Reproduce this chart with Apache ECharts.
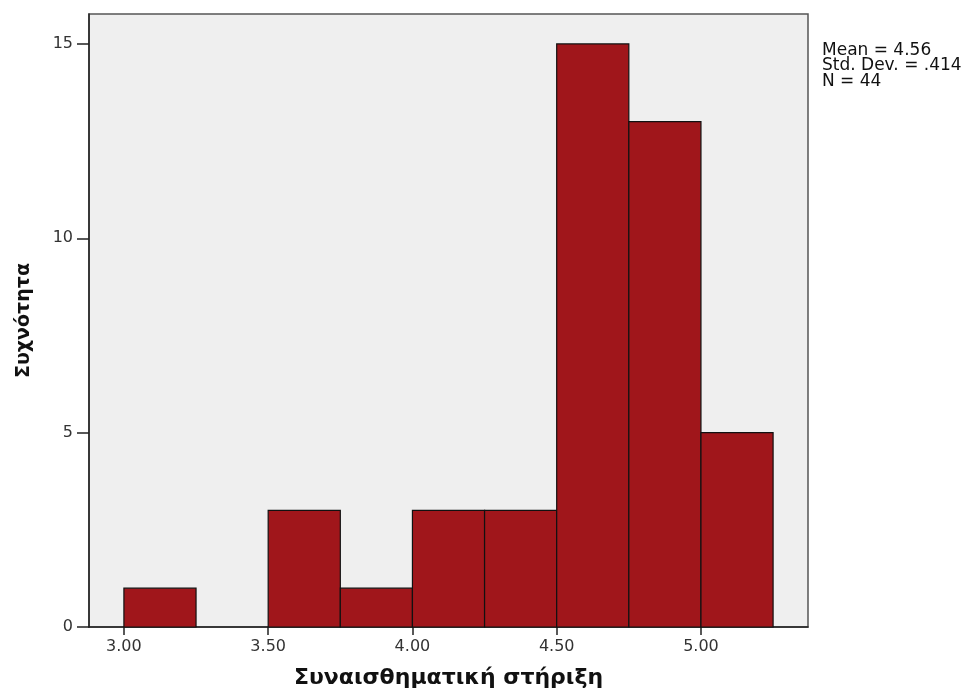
<!DOCTYPE html>
<html>
<head>
<meta charset="utf-8">
<script src="https://cdn.jsdelivr.net/npm/echarts@6/dist/echarts.min.js"></script>
<style>html,body{margin:0;padding:0;background:#fff;}#c{width:973px;height:688px;}</style>
</head>
<body>
<div id="c"></div>
<script>
const binStarts = [3.00, 3.25, 3.50, 3.75, 4.00, 4.25, 4.50, 4.75, 5.00];
const binWidth = 0.25;
const counts = [1, 0, 3, 1, 3, 3, 15, 13, 5];
const xTicks = [3.0, 3.5, 4.0, 4.5, 5.0];
const yTicks = [0, 5, 10, 15];
const statsLines = ['Mean = 4.56', 'Std. Dev. = .414', 'N = 44'];
const xTitle = 'Συναισθηματική στήριξη';
const yTitle = 'Συχνότητα';

const data = binStarts.map((s, i) => [s, s + binWidth, counts[i]]);

const chart = echarts.init(document.getElementById('c'), null, {renderer: 'canvas'});
const font = 'DejaVu Sans';
chart.setOption({
  animation: false,
  backgroundColor: '#ffffff',
  grid: {
    left: 89, top: 14, right: 165, bottom: 61,
    outerBoundsMode: 'none', containLabel: false,
    show: true, backgroundColor: '#efefef', borderColor: '#555', borderWidth: 1.5
  },
  xAxis: {
    type: 'value', min: 2.879, max: 5.371,
    splitLine: {show: false},
    axisLine: {show: true, onZero: false, lineStyle: {color: '#222', width: 1.5}},
    axisTick: {show: true, length: 8, customValues: xTicks, lineStyle: {color: '#222', width: 1.5}},
    axisLabel: {customValues: xTicks, formatter: v => v.toFixed(2), color: '#333', fontSize: 16, fontFamily: font, margin: 12},
    name: xTitle, nameLocation: 'middle', nameGap: 40,
    nameTextStyle: {fontSize: 22, fontWeight: 'bold', color: '#111', fontFamily: font}
  },
  yAxis: {
    type: 'value', min: 0, max: 15.77,
    splitLine: {show: false},
    axisLine: {show: true, lineStyle: {color: '#222', width: 1.5}},
    axisTick: {show: true, length: 12, customValues: yTicks, lineStyle: {color: '#222', width: 1.5}},
    axisLabel: {customValues: yTicks, color: '#333', fontSize: 16, fontFamily: font, margin: 16},
    name: yTitle, nameLocation: 'middle', nameGap: 55,
    nameTextStyle: {fontSize: 19, fontWeight: 'bold', color: '#111', fontFamily: font}
  },
  series: [{
    type: 'custom',
    data: data,
    encode: {x: [0, 1], y: 2},
    renderItem: function (params, api) {
      const p0 = api.coord([api.value(0), 0]);
      const p1 = api.coord([api.value(1), api.value(2)]);
      if (api.value(2) <= 0) return null;
      return {
        type: 'rect',
        shape: {x: p0[0], y: p1[1], width: p1[0] - p0[0], height: p0[1] - p1[1]},
        style: {fill: '#a0161b', stroke: '#111', lineWidth: 1.2}
      };
    }
  }],
  graphic: [{
    type: 'text', left: 822, top: 42,
    style: {text: statsLines.join('\n'), font: '17px "DejaVu Sans"', fill: '#111', lineHeight: 15.5}
  }]
});
</script>
</body>
</html>
